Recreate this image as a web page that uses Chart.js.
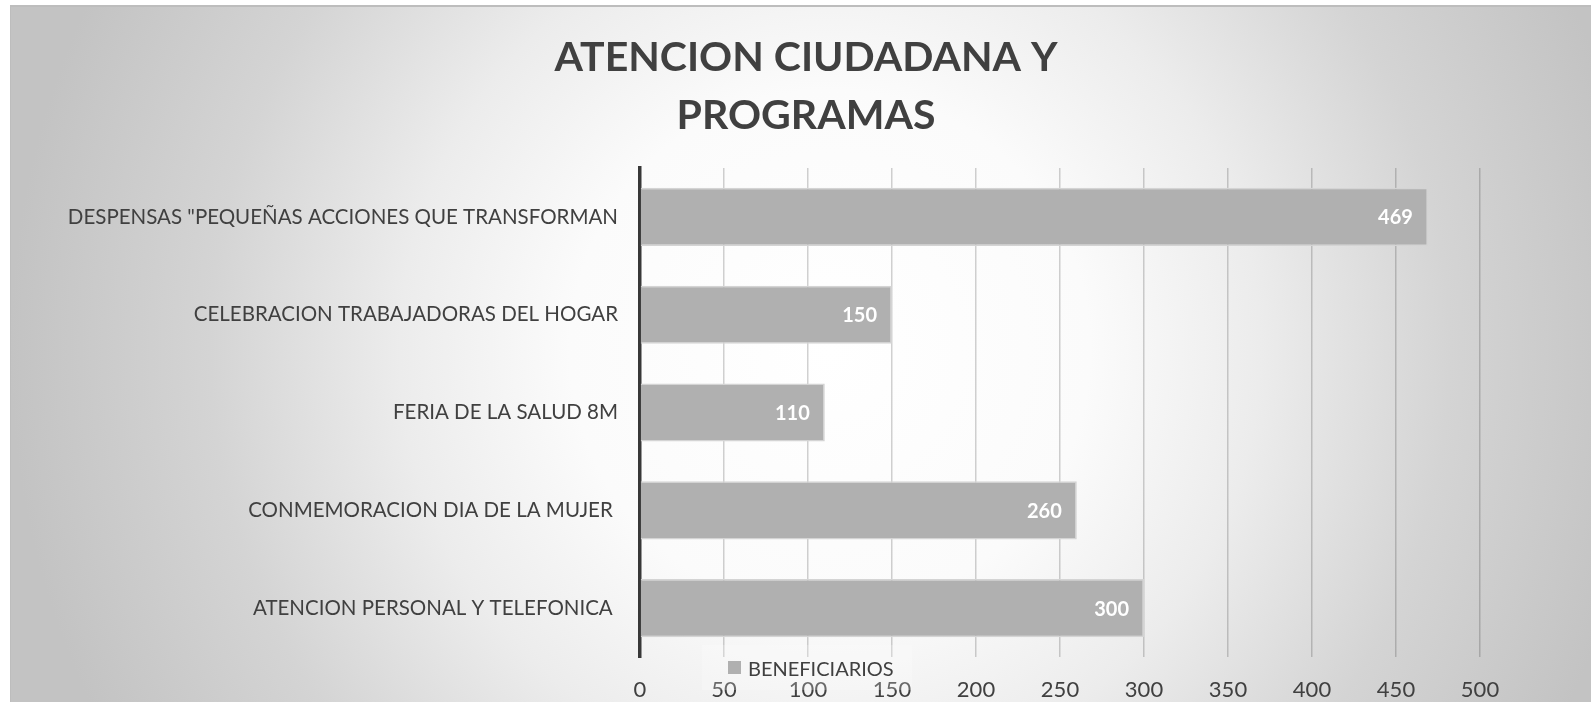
<!DOCTYPE html>
<html>
<head>
<meta charset="utf-8">
<script src="https://cdn.jsdelivr.net/npm/chart.js@4.4.1/dist/chart.umd.min.js"></script>
<style>
html,body{margin:0;padding:0;background:#fff;}
body{width:1591px;height:702px;overflow:hidden;position:relative;}
#marco{position:absolute;left:10px;top:5px;width:1581px;height:697px;
  background:radial-gradient(circle at 820px 345px,#ffffff 0px,#fbfbfb 260px,#ececec 430px,#d4d4d4 620px,#c3c3c3 820px);
  box-shadow:inset 1px 2px 0 #bdbdbd;}
#grafica{position:absolute;left:0;top:0;}
#leyenda{position:absolute;left:692px;top:640px;width:210px;height:45px;background:rgba(255,255,255,0.22);
  display:flex;align-items:center;font:20px Lato;color:#404040;}
#leyenda i{display:inline-block;width:13px;height:13px;background:#b0b0b0;margin:0 7px 0 26px;}
</style>
</head>
<body>
<div id="marco">
  <canvas id="grafica" width="1581" height="697"></canvas>
  <div id="leyenda"><i></i><span id="leyenda-txt"></span></div>
</div>
<script>
// ── datos ──
const titulo=['ATENCION CIUDADANA Y','PROGRAMAS'];
const serie='BENEFICIARIOS';
const categorias=['DESPENSAS "PEQUEÑAS ACCIONES QUE TRANSFORMAN','CELEBRACION TRABAJADORAS DEL HOGAR','FERIA DE LA SALUD 8M','CONMEMORACION DIA DE LA MUJER ','ATENCION PERSONAL Y TELEFONICA '];
const beneficiarios=[469,150,110,260,300];
const ejeMin=0,ejeMax=500,ejePaso=50;

const gris='#404040';
document.getElementById('leyenda-txt').textContent=serie;

// etiquetas blancas al final de cada barra
const etiquetasValor={id:'etiquetasValor',afterDatasetsDraw(chart){
  const ctx=chart.ctx;const meta=chart.getDatasetMeta(0);
  ctx.save();ctx.font='bold 20px Lato';ctx.fillStyle='#ffffff';ctx.textAlign='right';ctx.textBaseline='middle';
  meta.data.forEach((bar,i)=>ctx.fillText(String(beneficiarios[i]),bar.x-15,bar.y+1));
  ctx.restore();
}};
// el titulo va centrado sobre todo el lienzo, no solo sobre el area con padding
const tituloCentrado={id:'tituloCentrado',afterLayout(chart){
  if(chart.titleBlock){chart.titleBlock.left=11;chart.titleBlock.right=chart.width;}
}};

new Chart(document.getElementById('grafica'),{
  type:'bar',
  data:{labels:categorias,datasets:[{label:serie,data:beneficiarios,backgroundColor:'#b0b0b0',borderColor:'#d4d4d4',borderWidth:1.5,barPercentage:0.595,categoryPercentage:1}]},
  options:{responsive:false,animation:false,indexAxis:'y',
    layout:{padding:{left:0,right:111,top:0,bottom:0}},
    plugins:{legend:{display:false},tooltip:{enabled:false},
      title:{display:true,text:titulo,color:gris,font:{family:'Lato',size:41,weight:'bold',lineHeight:1.415},padding:{top:24,bottom:23}}},
    scales:{
      x:{min:ejeMin,max:ejeMax,ticks:{stepSize:ejePaso,color:gris,font:{family:'Lato',size:22},padding:20},
        grid:{color:'rgba(0,0,0,0.18)',lineWidth:1.5,drawTicks:false},border:{display:false},
        afterFit(s){s.height=45;}},
      y:{ticks:{color:gris,font:{family:'Lato',size:20.5},padding:22},
        grid:{display:false,drawTicks:false},border:{display:true,color:'#383838',width:3.5},
        afterFit(s){s.width=630;}}
    }},
  plugins:[etiquetasValor,tituloCentrado]
});
</script>
</body>
</html>
